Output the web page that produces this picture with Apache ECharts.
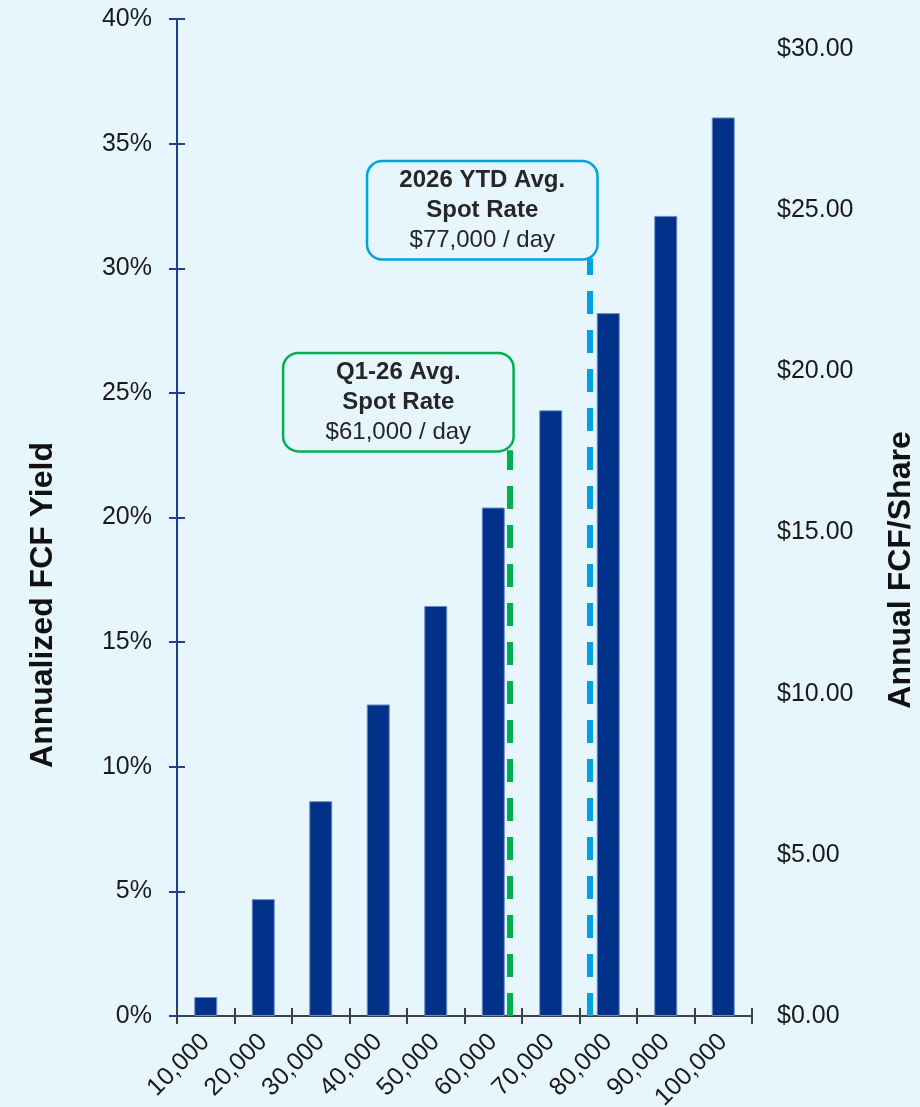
<!DOCTYPE html>
<html>
<head>
<meta charset="utf-8">
<script src="https://cdn.jsdelivr.net/npm/echarts@6/dist/echarts.min.js"></script>
<style>
  html, body { margin: 0; padding: 0; background: #E7F6FD; }
  #chart { width: 920px; height: 1107px; }
</style>
</head>
<body>
<div id="chart"></div>
<script>
// spot rate ($/day) categories
var categories = ['10,000', '20,000', '30,000', '40,000', '50,000', '60,000', '70,000', '80,000', '90,000', '100,000'];
// annualized FCF yield, %
var fcfYield = [0.76, 4.69, 8.62, 12.5, 16.45, 20.4, 24.3, 28.2, 32.1, 36.05];
var yieldTicks = { min: 0, max: 40, interval: 5 };
// right axis ($/share); top of plot sits a bit above $30
var shareTicks = { min: 0, max: 30.93, interval: 5 };
// reference lines: x position on the spot-rate scale, top in yield %
var refLineX = [62800, 76700];
var refLineTop = [22.7, 30.4];
var refTitle = ['Q1-26 Avg.', '2026 YTD Avg.'];
var refRate = ['$61,000 / day', '$77,000 / day'];
var refColor = ['#00B050', '#00A3E0'];

var font = '"Liberation Sans", Arial, sans-serif';
var bg = '#E7F6FD';

var marks = [];
for (var i = 0; i < refLineX.length; i++) {
  marks.push([
    {
      coord: [refLineX[i], 0],
      lineStyle: { color: refColor[i], width: 6, type: [23, 16] },
      label: {
        show: true,
        position: 'end',
        distance: 0,
        offset: [i === 0 ? -111 : -107, 0],
        formatter: '{b|' + refTitle[i] + '}\n{b|Spot Rate}\n{n|' + refRate[i] + '}',
        backgroundColor: bg,
        borderColor: refColor[i],
        borderWidth: 2.5,
        borderRadius: 14,
        padding: [3, 10],
        width: 208,
        align: 'center',
        rich: {
          b: { fontFamily: font, fontWeight: 'bold', fontSize: 24, lineHeight: 30, color: '#262626', align: 'center' },
          n: { fontFamily: font, fontSize: 24, lineHeight: 30, color: '#262626', align: 'center' }
        }
      }
    },
    { coord: [refLineX[i], refLineTop[i]] }
  ]);
}

var chart = echarts.init(document.getElementById('chart'));
chart.setOption({
  backgroundColor: bg,
  animation: false,
  textStyle: { fontFamily: font },
  grid: { left: 177, right: 168, top: 19, bottom: 91, outerBoundsMode: 'none', containLabel: false },
  xAxis: [
    {
      type: 'category',
      position: 'bottom',
      data: categories,
      axisLine: { lineStyle: { color: '#404040', width: 2 } },
      axisTick: { show: true, length: 8, lineStyle: { color: '#404040', width: 2 } },
      axisLabel: { rotate: 45, fontSize: 25, color: '#1a1a1a', margin: 22, interval: 0 },
      splitLine: { show: false }
    },
    {
      type: 'value',
      show: false,
      min: 5000,
      max: 105000
    },
    {
      type: 'category',
      position: 'bottom',
      data: categories,
      axisLine: { show: false },
      axisTick: { show: true, inside: true, length: 8, lineStyle: { color: '#404040', width: 2 } },
      axisLabel: { show: false },
      splitLine: { show: false }
    }
  ],
  yAxis: [
    {
      type: 'value',
      position: 'left',
      min: yieldTicks.min,
      max: yieldTicks.max,
      interval: yieldTicks.interval,
      axisLine: { show: true, lineStyle: { color: '#1F3F8F', width: 2 } },
      axisTick: { show: true, length: 8, lineStyle: { color: '#1F3F8F', width: 2 } },
      axisLabel: { formatter: '{value}%', fontSize: 25, color: '#1a1a1a', margin: 25 },
      splitLine: { show: false }
    },
    {
      type: 'value',
      position: 'right',
      min: shareTicks.min,
      max: shareTicks.max,
      interval: shareTicks.interval,
      axisLine: { show: false },
      axisTick: { show: false },
      axisLabel: {
        fontSize: 25, color: '#1a1a1a', margin: 25, showMaxLabel: false,
        formatter: function (v) { return '$' + v.toFixed(2); }
      },
      splitLine: { show: false }
    },
    {
      type: 'value',
      position: 'left',
      min: yieldTicks.min,
      max: yieldTicks.max,
      interval: yieldTicks.interval,
      axisLine: { show: false },
      axisTick: { show: true, inside: true, length: 8, lineStyle: { color: '#1F3F8F', width: 2 } },
      axisLabel: { show: false },
      splitLine: { show: false }
    }
  ],
  series: [
    {
      name: 'Annualized FCF Yield',
      type: 'bar',
      xAxisIndex: 0,
      yAxisIndex: 0,
      barWidth: 23,
      itemStyle: { color: '#02318A', borderColor: '#6b8cc7', borderWidth: 1 },
      data: fcfYield
    },
    {
      name: 'ref',
      type: 'line',
      xAxisIndex: 1,
      yAxisIndex: 0,
      data: [],
      markLine: {
        silent: true,
        symbol: ['none', 'none'],
        data: marks
      }
    }
  ],
  graphic: [
    {
      type: 'text', x: 43, y: 605, rotation: Math.PI / 2,
      style: { text: 'Annualized FCF Yield', font: 'bold 32px ' + font, fill: '#111', align: 'center', verticalAlign: 'middle' }
    },
    {
      type: 'text', x: 901, y: 570, rotation: Math.PI / 2,
      style: { text: 'Annual FCF/Share', font: 'bold 32px ' + font, fill: '#111', align: 'center', verticalAlign: 'middle' }
    }
  ]
});
</script>
</body>
</html>
